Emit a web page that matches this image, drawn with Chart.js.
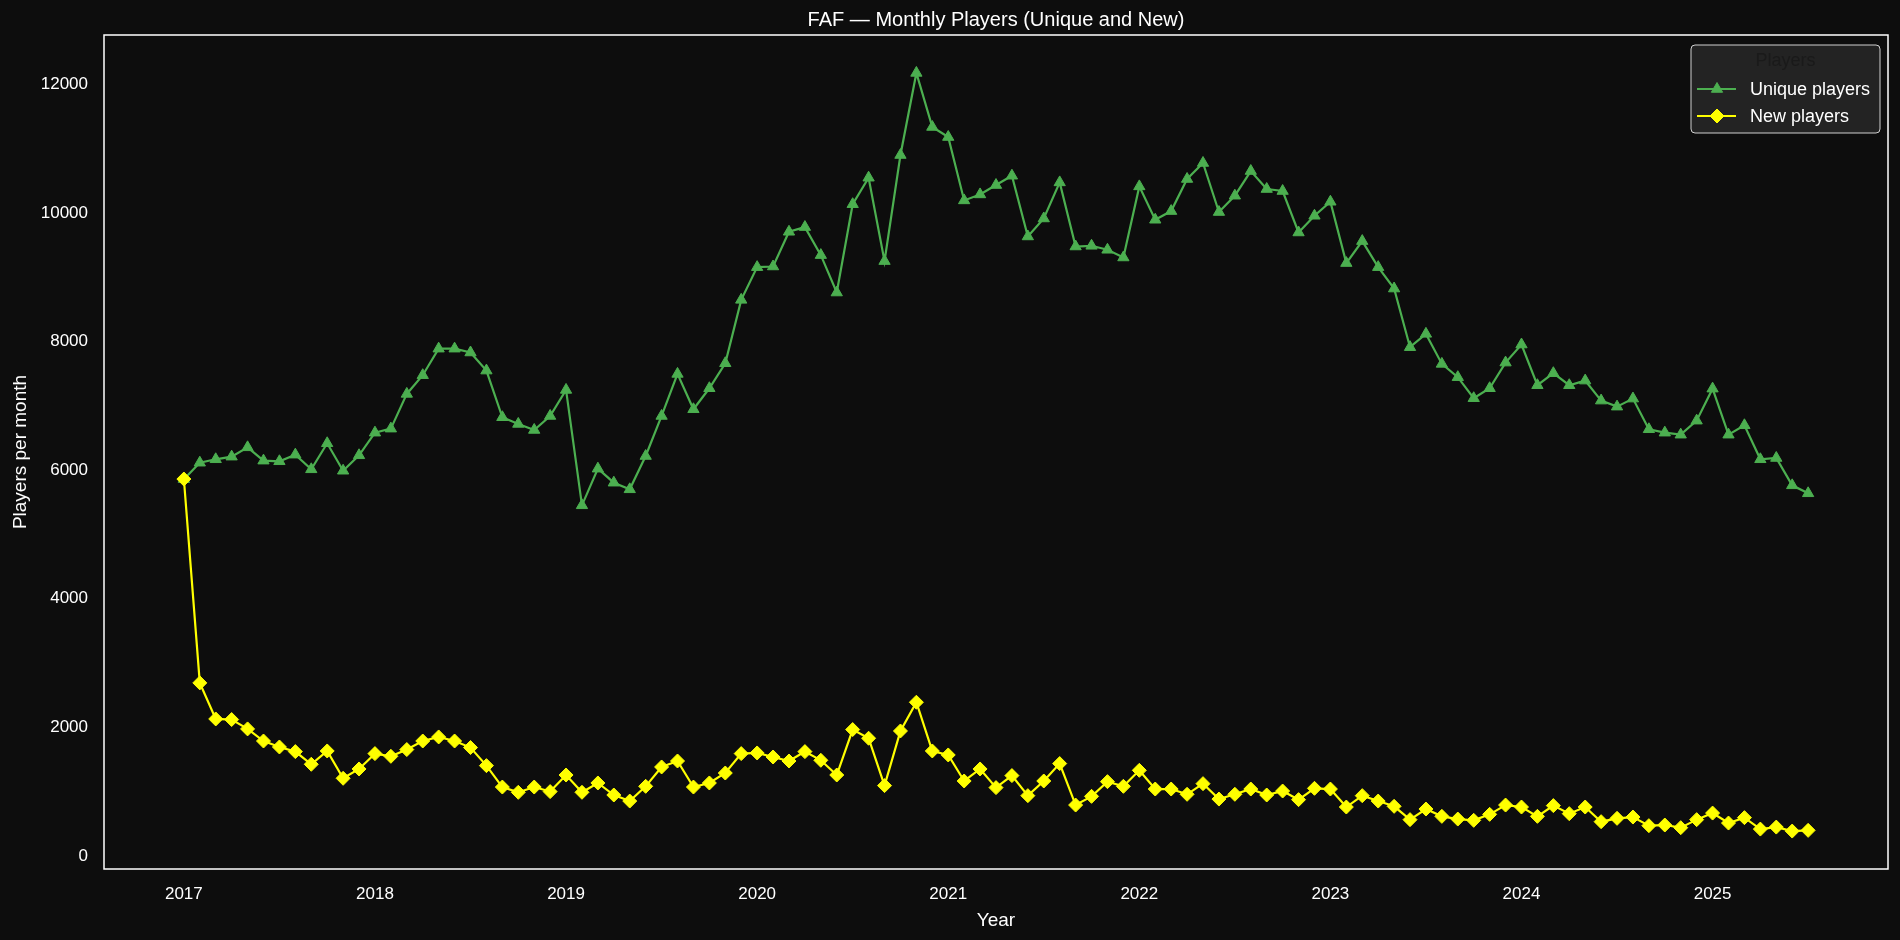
<!DOCTYPE html>
<html lang="en">

<head>
    <meta charset="UTF-8">
    <title>FAF - Monthly Players</title>
    <script src="https://cdn.jsdelivr.net/npm/chart.js"></script>
    <style>
        body {
            margin: 0;
            background-color: #0d0d0d;
        }

        .chart-box {
            width: 1900px;
            height: 940px;
        }
    </style>
</head>

<body>
    <div class="chart-box">
        <canvas id="players-chart" width="1900" height="940"></canvas>
    </div>

    <script>
        // months (first of each month)
        const months = [
            '2017-01', '2017-02', '2017-03', '2017-04', '2017-05', '2017-06', '2017-07', '2017-08', '2017-09', '2017-10', '2017-11', '2017-12',
            '2018-01', '2018-02', '2018-03', '2018-04', '2018-05', '2018-06', '2018-07', '2018-08', '2018-09', '2018-10', '2018-11', '2018-12',
            '2019-01', '2019-02', '2019-03', '2019-04', '2019-05', '2019-06', '2019-07', '2019-08', '2019-09', '2019-10', '2019-11', '2019-12',
            '2020-01', '2020-02', '2020-03', '2020-04', '2020-05', '2020-06', '2020-07', '2020-08', '2020-09', '2020-10', '2020-11', '2020-12',
            '2021-01', '2021-02', '2021-03', '2021-04', '2021-05', '2021-06', '2021-07', '2021-08', '2021-09', '2021-10', '2021-11', '2021-12',
            '2022-01', '2022-02', '2022-03', '2022-04', '2022-05', '2022-06', '2022-07', '2022-08', '2022-09', '2022-10', '2022-11', '2022-12',
            '2023-01', '2023-02', '2023-03', '2023-04', '2023-05', '2023-06', '2023-07', '2023-08', '2023-09', '2023-10', '2023-11', '2023-12',
            '2024-01', '2024-02', '2024-03', '2024-04', '2024-05', '2024-06', '2024-07', '2024-08', '2024-09', '2024-10', '2024-11', '2024-12',
            '2025-01', '2025-02', '2025-03', '2025-04', '2025-05', '2025-06', '2025-07'
        ];

        const uniquePlayers = [
            5860, 6116, 6169, 6210, 6355, 6148, 6138, 6241, 6013, 6418, 5991, 6231,
            6583, 6646, 7186, 7477, 7890, 7890, 7830, 7549, 6823, 6719, 6625, 6843,
            7248, 5453, 6023, 5805, 5702, 6220, 6843, 7497, 6947, 7274, 7663, 8649,
            9158, 9168, 9708, 9781, 9345, 8763, 10137, 10549, 9252, 10902, 12179, 11338,
            11182, 10196, 10289, 10435, 10580, 9635, 9915, 10476, 9479, 9490, 9428, 9308,
            10414, 9895, 10030, 10529, 10778, 10015, 10269, 10653, 10373, 10342, 9697, 9957,
            10175, 9221, 9563, 9158, 8825, 7913, 8120, 7653, 7446, 7119, 7274, 7673,
            7954, 7321, 7508, 7321, 7393, 7082, 6988, 7113, 6636, 6583, 6552, 6770,
            7268, 6552, 6698, 6169, 6189, 5764, 5640
        ];

        const newPlayers = [
            5862, 2691, 2130, 2121, 1975, 1787, 1694, 1622, 1425, 1632, 1207, 1352,
            1591, 1549, 1654, 1787, 1850, 1787, 1685, 1404, 1071, 989, 1071, 1000,
            1258, 989, 1134, 947, 853, 1082, 1383, 1476, 1071, 1134, 1289, 1591,
            1601, 1538, 1476, 1622, 1487, 1258, 1965, 1830, 1093, 1943, 2390, 1632,
            1570, 1165, 1352, 1062, 1249, 937, 1165, 1436, 791, 926, 1155, 1082,
            1331, 1040, 1040, 958, 1124, 884, 958, 1040, 947, 1009, 875, 1051,
            1040, 760, 937, 853, 771, 564, 729, 615, 573, 553, 646, 791,
            760, 615, 782, 657, 760, 532, 584, 604, 470, 480, 439, 564,
            666, 511, 595, 417, 448, 386, 397
        ];

        const yearTicks = [2017, 2018, 2019, 2020, 2021, 2022, 2023, 2024, 2025];
        const yTicks = [0, 2000, 4000, 6000, 8000, 10000, 12000];

        const GREEN = '#4caf50';
        const YELLOW = '#ffff00';
        const FONT = "'Liberation Sans', Arial, sans-serif";

        // 'YYYY-MM' -> fractional year
        function monthToX(m) {
            const [y, mo] = m.split('-').map(Number);
            return y + (mo - 1) / 12;
        }

        function toPoints(values) {
            return values.map((v, i) => ({ x: monthToX(months[i]), y: v }));
        }

        // background, frame, title and legend
        const decorPlugin = {
            id: 'decor',
            beforeDraw(chart) {
                const ctx = chart.ctx;
                ctx.save();
                ctx.fillStyle = '#0d0d0d';
                ctx.fillRect(0, 0, chart.width, chart.height);
                ctx.restore();
            },
            afterDraw(chart) {
                const ctx = chart.ctx;
                const a = chart.chartArea;
                ctx.save();

                // frame
                ctx.strokeStyle = '#ffffff';
                ctx.lineWidth = 1.5;
                ctx.strokeRect(a.left, a.top, a.right - a.left, a.bottom - a.top);

                // title
                ctx.fillStyle = '#ffffff';
                ctx.font = '20px ' + FONT;
                ctx.textAlign = 'center';
                ctx.textBaseline = 'middle';
                ctx.fillText('FAF \u2014 Monthly Players (Unique and New)', (a.left + a.right) / 2, 20);

                // legend box
                const w = 189, h = 88;
                const lx = a.right - 197, ly = a.top + 10;
                ctx.beginPath();
                ctx.roundRect(lx, ly, w, h, 4);
                ctx.fillStyle = '#232323';
                ctx.fill();
                ctx.strokeStyle = '#d0d0d0';
                ctx.lineWidth = 1;
                ctx.stroke();

                ctx.font = '18px ' + FONT;
                ctx.fillStyle = '#1a1a1a';
                ctx.fillText('Players', lx + w / 2, ly + 16);

                const entries = [
                    { label: 'Unique players', color: GREEN, style: 'triangle', r: 6.5, y: ly + 44 },
                    { label: 'New players', color: YELLOW, style: 'rectRot', r: 7, y: ly + 71 }
                ];
                entries.forEach(e => {
                    ctx.strokeStyle = e.color;
                    ctx.lineWidth = 2.2;
                    ctx.beginPath();
                    ctx.moveTo(lx + 6, e.y);
                    ctx.lineTo(lx + 45, e.y);
                    ctx.stroke();
                    ctx.fillStyle = e.color;
                    ctx.lineWidth = 1;
                    Chart.helpers.drawPoint(ctx, { pointStyle: e.style, radius: e.r, borderWidth: 1 }, lx + 26, e.y);
                    ctx.fillStyle = '#ffffff';
                    ctx.textAlign = 'left';
                    ctx.fillText(e.label, lx + 59, e.y + 1);
                });

                ctx.restore();
            }
        };

        const ctx = document.getElementById('players-chart').getContext('2d');
        new Chart(ctx, {
            type: 'line',
            data: {
                datasets: [{
                    label: 'Unique players',
                    data: toPoints(uniquePlayers),
                    borderColor: GREEN,
                    backgroundColor: GREEN,
                    borderWidth: 2.2,
                    pointStyle: 'triangle',
                    pointRadius: 6.5,
                    pointBorderWidth: 1,
                    pointBorderColor: GREEN,
                    tension: 0,
                    order: 2
                }, {
                    label: 'New players',
                    data: toPoints(newPlayers),
                    borderColor: YELLOW,
                    backgroundColor: YELLOW,
                    borderWidth: 2.2,
                    pointStyle: 'rectRot',
                    pointRadius: 7,
                    pointBorderWidth: 1,
                    pointBorderColor: YELLOW,
                    tension: 0,
                    order: 1
                }]
            },
            options: {
                responsive: false,
                animation: false,
                devicePixelRatio: 1,
                layout: {
                    padding: { top: 35, right: 12, left: 0, bottom: 0 }
                },
                plugins: {
                    legend: { display: false },
                    tooltip: { enabled: false }
                },
                scales: {
                    x: {
                        type: 'linear',
                        min: 2016.582,
                        max: 2025.918,
                        afterBuildTicks: s => { s.ticks = yearTicks.map(v => ({ value: v })); },
                        afterFit: s => { s.height = 71; },
                        grid: { display: false, drawTicks: false },
                        border: { display: false },
                        ticks: {
                            color: '#ffffff',
                            padding: 15,
                            maxRotation: 0,
                            font: { family: FONT, size: 17 },
                            callback: v => String(v)
                        },
                        title: {
                            display: true,
                            text: 'Year',
                            color: '#ffffff',
                            font: { family: FONT, size: 19 },
                            padding: { bottom: 8 }
                        }
                    },
                    y: {
                        min: -204,
                        max: 12769,
                        afterBuildTicks: s => { s.ticks = yTicks.map(v => ({ value: v })); },
                        afterFit: s => { s.width = 104; },
                        grid: { display: false, drawTicks: false },
                        border: { display: false },
                        ticks: {
                            color: '#ffffff',
                            padding: 16,
                            font: { family: FONT, size: 17 },
                            callback: v => String(v)
                        },
                        title: {
                            display: true,
                            text: 'Players per month',
                            color: '#ffffff',
                            font: { family: FONT, size: 19 },
                            padding: { top: 9 }
                        }
                    }
                }
            },
            plugins: [decorPlugin]
        });
    </script>
</body>

</html>
